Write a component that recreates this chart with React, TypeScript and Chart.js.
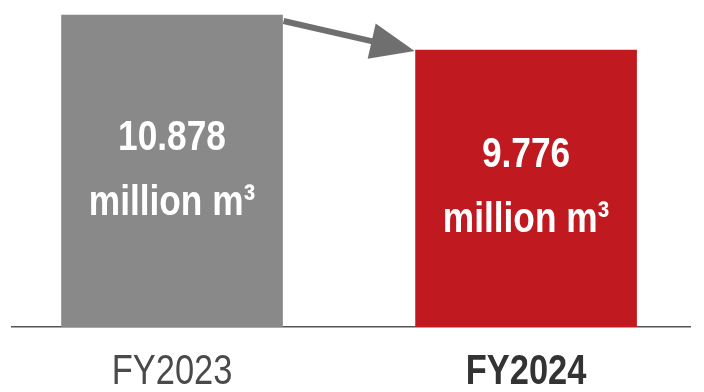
import React, { useEffect, useRef } from "react";
import { Chart, registerables } from "chart.js";

Chart.register(...registerables);

const categories = ["FY2023", "FY2024"];
const values = [10.878, 9.776];
const unitLabel = "million m³";
const barColors = ["#898989", "#c0191f"];

const FONT = "'Liberation Sans', Arial, sans-serif";
const NARROW = 0.82;

function narrowText(ctx: any, text: string, x: number, y: number) {
  ctx.save();
  ctx.translate(x, y);
  ctx.scale(NARROW, 1);
  ctx.fillText(text, 0, 0);
  ctx.restore();
}

const overlayPlugin = {
  id: "overlay",
  afterDraw(chart: any) {
    const meta = chart.getDatasetMeta(0);
    const ctx = chart.ctx;
    const els = meta.data;
    const xs = chart.scales.x;
    const bottom = chart.chartArea.bottom;
    ctx.save();
    ctx.textAlign = "center";
    ctx.textBaseline = "middle";
    // category labels, positioned by the x scale
    categories.forEach((c, i) => {
      const px = xs.getPixelForValue(i);
      ctx.fillStyle = i === 1 ? "#333333" : "#4a4a4a";
      ctx.font = `${i === 1 ? "bold " : ""}42px ${FONT}`;
      narrowText(ctx, c, px, xs.top + 45);
    });
    // value labels
    els.forEach((el: any, i: number) => {
      const p = el.getProps(["x", "y", "base"], true);
      const mid = (p.y + Math.min(p.base, bottom)) / 2;
      ctx.fillStyle = "#ffffff";
      ctx.font = `bold 43px ${FONT}`;
      narrowText(ctx, values[i].toFixed(3), p.x, mid - 33);
      narrowText(ctx, unitLabel, p.x, mid + 32);
    });
    // arrow
    if (els.length >= 2) {
      const a = els[0].getProps(["x", "y", "width"], true);
      const b = els[1].getProps(["x", "y", "width"], true);
      const x1 = a.x + a.width / 2 + 1;
      const y1 = a.y + 6;
      const x2 = b.x - b.width / 2 - 1;
      const y2 = b.y + 1;
      const ang = Math.atan2(y2 - y1, x2 - x1);
      const headLen = 44;
      const headHalf = 18;
      const bx = x2 - headLen * Math.cos(ang);
      const by = y2 - headLen * Math.sin(ang);
      ctx.strokeStyle = "#6f6f6f";
      ctx.fillStyle = "#6f6f6f";
      ctx.lineWidth = 6;
      ctx.beginPath();
      ctx.moveTo(x1, y1);
      ctx.lineTo(bx + 2 * Math.cos(ang), by + 2 * Math.sin(ang));
      ctx.stroke();
      ctx.beginPath();
      ctx.moveTo(x2, y2);
      ctx.lineTo(bx + headHalf * Math.sin(ang), by - headHalf * Math.cos(ang));
      ctx.lineTo(bx - headHalf * Math.sin(ang), by + headHalf * Math.cos(ang));
      ctx.closePath();
      ctx.fill();
    }
    ctx.restore();
  },
};

export default function App() {
  const ref = useRef<HTMLCanvasElement>(null);
  useEffect(() => {
    if (!ref.current) return;
    const chart = new Chart(ref.current, {
      type: "bar",
      data: {
        datasets: [
          {
            data: values.map((v, i) => ({ x: i, y: v })),
            backgroundColor: barColors,
            barThickness: 221,
            borderWidth: 0,
          },
        ],
      },
      options: {
        animation: false,
        responsive: true,
        maintainAspectRatio: false,
        layout: { padding: { left: 12, right: 14, top: 0, bottom: 0 } },
        plugins: { legend: { display: false }, tooltip: { enabled: false } },
        scales: {
          x: {
            type: "linear",
            offset: false,
            min: -0.452,
            max: 1.463,
            afterBuildTicks: (scale: any) => {
              scale.ticks = categories.map((_, i) => ({ value: i }));
            },
            afterFit: (scale: any) => {
              scale.height = 65;
            },
            grid: { display: false, drawTicks: false },
            border: { display: true, color: "#555555", width: 1.5 },
            ticks: { display: false },
          },
          y: {
            display: false,
            min: 1.05,
            max: 11.35,
          },
        },
      },
      plugins: [overlayPlugin],
    });
    return () => chart.destroy();
  }, []);
  return (
    <div style={{ position: "fixed", left: 0, top: 0, width: 704, height: 392, background: "#fff" }}>
      <canvas ref={ref} />
    </div>
  );
}
